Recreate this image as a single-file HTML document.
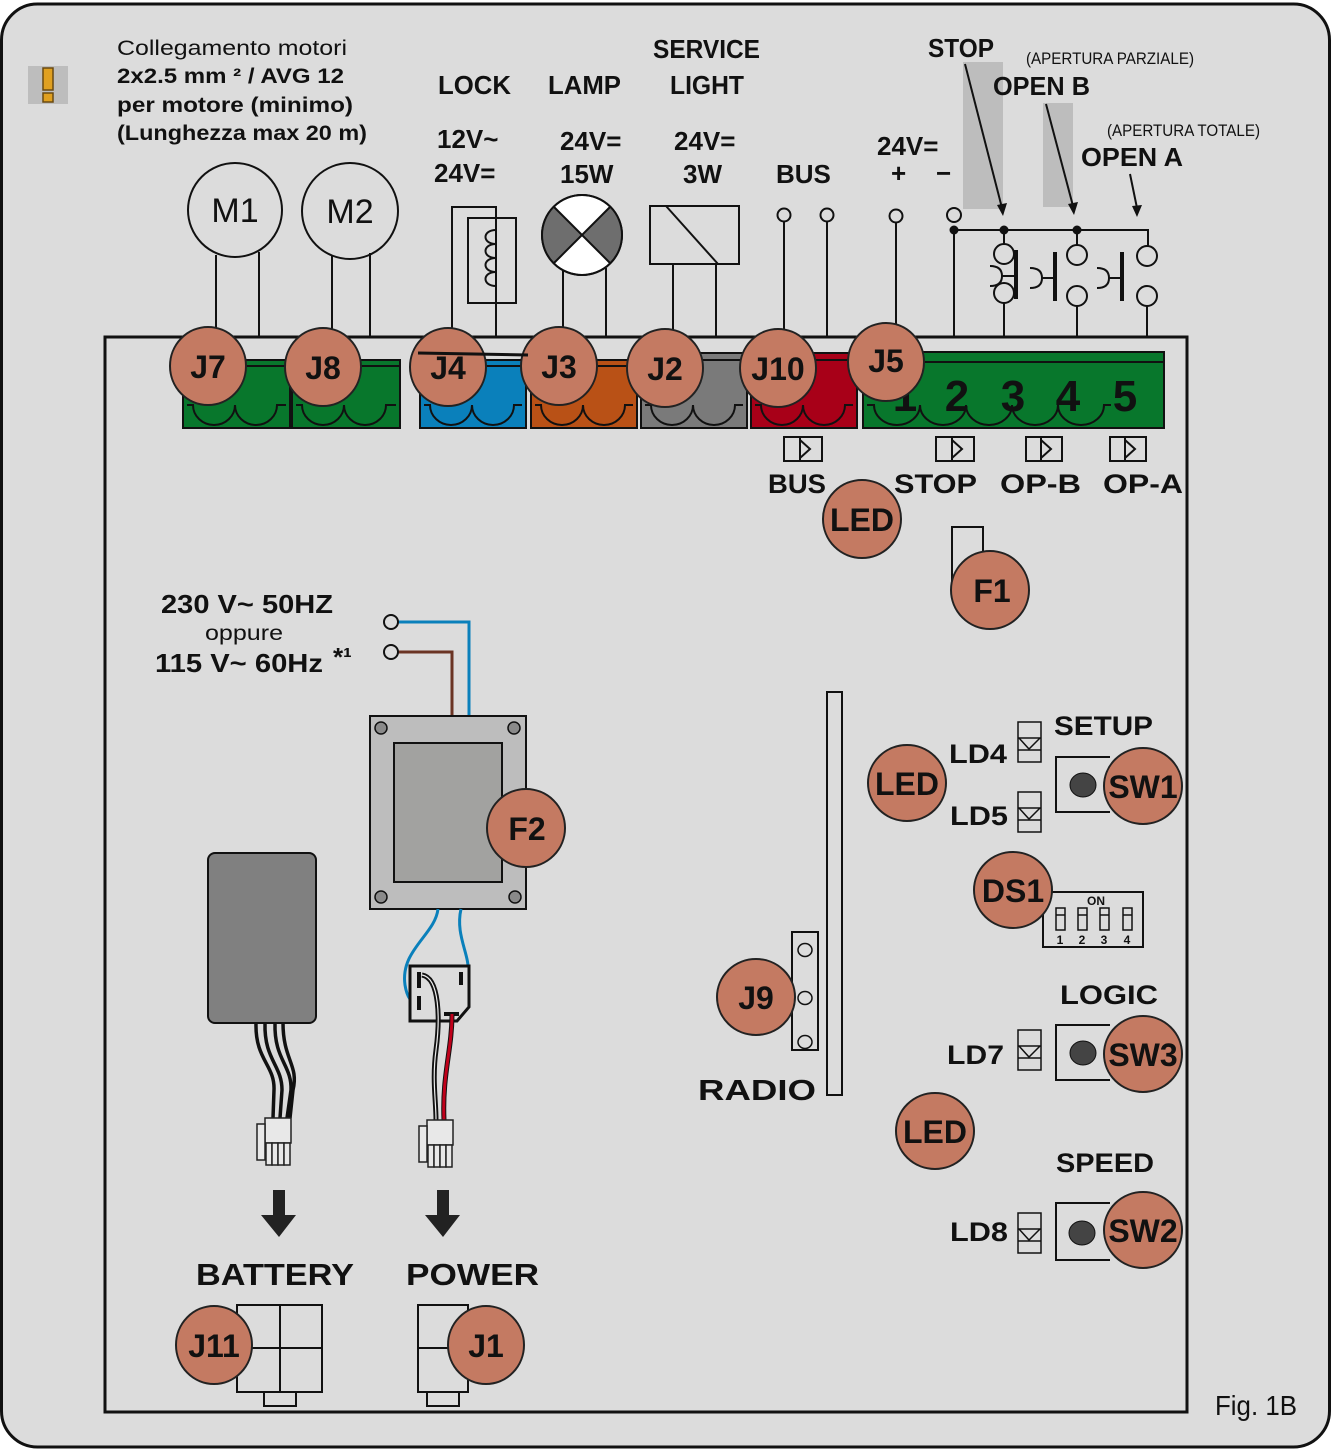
<!DOCTYPE html>
<html><head><meta charset="utf-8"><style>
html,body{margin:0;padding:0;background:#fff}
svg{display:block}
text{font-family:"Liberation Sans",sans-serif;fill:#111}
.b{font-weight:bold}
</style></head><body>
<svg width="1336" height="1450" viewBox="0 0 1336 1450" xmlns="http://www.w3.org/2000/svg">
<rect x="0" y="0" width="1336" height="1450" fill="#fff"/>
<rect x="1.5" y="4" width="1328" height="1443" rx="36" fill="#dcdcdc" stroke="#111" stroke-width="3"/>
<rect x="105" y="337" width="1082" height="1075" fill="none" stroke="#111" stroke-width="3"/>

<rect x="28" y="66" width="40" height="38" fill="#bdbdbd"/>
<rect x="43" y="68" width="10" height="22" fill="#e0a020" stroke="#6b4a10" stroke-width="1.5"/>
<rect x="43" y="93" width="10" height="9" fill="#e0a020" stroke="#6b4a10" stroke-width="1.5"/>

<text x="117" y="55" font-size="21" textLength="230" lengthAdjust="spacingAndGlyphs">Collegamento motori</text>
<text x="117" y="83" font-size="21" class="b" textLength="227" lengthAdjust="spacingAndGlyphs">2x2.5 mm ² / AVG 12</text>
<text x="117" y="112" font-size="21" class="b" textLength="236" lengthAdjust="spacingAndGlyphs">per motore  (minimo)</text>
<text x="117" y="140" font-size="21" class="b" textLength="250" lengthAdjust="spacingAndGlyphs">(Lunghezza max 20 m)</text>

<!-- gray bars -->
<rect x="963" y="62" width="40" height="147" fill="#bdbdbd"/>
<rect x="1043" y="103" width="30" height="104" fill="#bdbdbd"/>

<g font-size="26" class="b">
<text x="438" y="94" textLength="73" lengthAdjust="spacingAndGlyphs">LOCK</text>
<text x="548" y="94" textLength="73" lengthAdjust="spacingAndGlyphs">LAMP</text>
<text x="653" y="58" textLength="107" lengthAdjust="spacingAndGlyphs">SERVICE</text>
<text x="670" y="94" textLength="74" lengthAdjust="spacingAndGlyphs">LIGHT</text>
<text x="437" y="148">12V~</text>
<text x="434" y="182">24V=</text>
<text x="560" y="150">24V=</text>
<text x="560" y="183">15W</text>
<text x="674" y="150">24V=</text>
<text x="683" y="183">3W</text>
<text x="776" y="183">BUS</text>
<text x="877" y="155">24V=</text>
<text x="891" y="182">+</text>
<text x="936" y="182">−</text>
<text x="928" y="57" textLength="66" lengthAdjust="spacingAndGlyphs">STOP</text>
<text x="993" y="95" textLength="97" lengthAdjust="spacingAndGlyphs">OPEN B</text>
<text x="1081" y="166" textLength="102" lengthAdjust="spacingAndGlyphs">OPEN A</text>
</g>
<text x="1026" y="64" font-size="17" textLength="168" lengthAdjust="spacingAndGlyphs">(APERTURA PARZIALE)</text>
<text x="1107" y="136" font-size="17" textLength="153" lengthAdjust="spacingAndGlyphs">(APERTURA TOTALE)</text>

<g stroke="#111" stroke-width="2" fill="none">
<circle cx="235" cy="210" r="47" />
<circle cx="350" cy="211" r="48" />
<line x1="216" y1="255" x2="216" y2="337"/><line x1="259" y1="252" x2="259" y2="337"/>
<line x1="332" y1="256" x2="332" y2="337"/><line x1="370" y1="253" x2="370" y2="337"/>
<polyline points="452,337 452,207 496,207 496,337"/>
<rect x="468" y="218" width="48" height="85"/>
<path d="M496,230 c-14,0 -14,14 0,14 c-14,0 -14,14 0,14 c-14,0 -14,14 0,14 c-14,0 -14,14 0,14"/>
<line x1="563" y1="268" x2="563" y2="337"/><line x1="606" y1="268" x2="606" y2="337"/>
<rect x="650" y="206" width="89" height="58"/>
<line x1="666" y1="206" x2="718" y2="264"/>
<line x1="673" y1="264" x2="673" y2="337"/><line x1="716" y1="264" x2="716" y2="337"/>
<circle cx="784" cy="215" r="6.5"/><circle cx="827" cy="215" r="6.5"/>
<circle cx="896" cy="216" r="6.5"/><circle cx="954" cy="215" r="7"/>
<line x1="784" y1="222" x2="784" y2="337"/><line x1="827" y1="222" x2="827" y2="337"/>
<line x1="896" y1="223" x2="896" y2="330"/>
<line x1="954" y1="230" x2="954" y2="337"/>
<polyline points="954,230 1148,230 1148,246"/>
<line x1="1004" y1="230" x2="1004" y2="244"/>
<line x1="1077" y1="230" x2="1077" y2="246"/>
<circle cx="1004" cy="254" r="10"/><circle cx="1004" cy="293" r="10"/>
<line x1="1004" y1="303" x2="1004" y2="337"/>
<path d="M990,266 q12,0 12,10 q0,10 -12,10"/><line x1="1002" y1="276" x2="1016" y2="276"/>
<circle cx="1077" cy="255" r="10"/><circle cx="1077" cy="296" r="10"/>
<line x1="1077" y1="306" x2="1077" y2="337"/>
<path d="M1030,268 q12,0 12,10 q0,10 -12,10"/><line x1="1042" y1="278" x2="1055" y2="278"/>
<circle cx="1147" cy="256" r="10"/><circle cx="1147" cy="296" r="10"/>
<line x1="1147" y1="306" x2="1147" y2="337"/>
<path d="M1097,268 q12,0 12,10 q0,10 -12,10"/><line x1="1109" y1="278" x2="1122" y2="278"/>
<line x1="965" y1="64" x2="1002" y2="208"/>
<line x1="1046" y1="104" x2="1073" y2="206"/>
<line x1="1130" y1="174" x2="1137" y2="208"/>
</g>
<g stroke="#111" stroke-width="4"><line x1="1016" y1="250" x2="1016" y2="299"/><line x1="1055" y1="252" x2="1055" y2="301"/><line x1="1122" y1="252" x2="1122" y2="301"/></g>
<g fill="#111">
<circle cx="954" cy="230" r="4.5"/><circle cx="1004" cy="230" r="4.5"/><circle cx="1077" cy="230" r="4.5"/>
<polygon points="997,205 1007,203 1003,216"/>
<polygon points="1068,204 1078,202 1074,215"/>
<polygon points="1132,206 1142,205 1137,217"/>
</g>
<circle cx="582" cy="235" r="40" fill="#fff" stroke="#111" stroke-width="2"/>
<path d="M582,235 L554,207 A40,40 0 0 0 554,263 Z" fill="#6e6e6e"/>
<path d="M582,235 L610,207 A40,40 0 0 1 610,263 Z" fill="#6e6e6e"/>
<line x1="554" y1="207" x2="610" y2="263" stroke="#111" stroke-width="2"/>
<line x1="610" y1="207" x2="554" y2="263" stroke="#111" stroke-width="2"/>
<circle cx="582" cy="235" r="40" fill="none" stroke="#111" stroke-width="2"/>
<text x="235" y="222" font-size="34" text-anchor="middle">M1</text>
<text x="350" y="223" font-size="34" text-anchor="middle">M2</text>

<g stroke="#111" stroke-width="2">
<rect x="183" y="360" width="107" height="68" fill="#08772c"/>
<rect x="292" y="360" width="108" height="68" fill="#08772c"/>
<rect x="420" y="360" width="106" height="68" fill="#0a80bb"/>
<rect x="531" y="360" width="106" height="68" fill="#b95116"/>
<rect x="641" y="353" width="106" height="75" fill="#7a7a7a"/>
<rect x="751" y="353" width="106" height="75" fill="#a80018"/>
<rect x="863" y="352" width="301" height="76" fill="#08772c"/>
</g>
<g stroke="#111" stroke-width="2" fill="none">
<line x1="183" y1="366" x2="400" y2="366"/>
<line x1="420" y1="366" x2="637" y2="366"/>
<line x1="641" y1="360" x2="857" y2="360"/>
<line x1="863" y1="362" x2="1164" y2="362"/>
<path d="M187,405 h6 a21,20 0 0 0 42,0 a21,20 0 0 0 42,0 h9"/>
<path d="M296,405 h6 a21,20 0 0 0 42,0 a21,20 0 0 0 42,0 h10"/>
<path d="M424,405 h6 a21,20 0 0 0 42,0 a21,20 0 0 0 42,0 h8"/>
<path d="M535,405 h6 a21,20 0 0 0 42,0 a21,20 0 0 0 42,0 h8"/>
<path d="M645,405 h6 a21,20 0 0 0 42,0 a21,20 0 0 0 42,0 h8"/>
<path d="M755,405 h6 a21,20 0 0 0 42,0 a21,20 0 0 0 42,0 h8"/>
<path d="M867,405 h7 a23,20 0 0 0 46,0 a23,20 0 0 0 46,0 a23,20 0 0 0 46,0 a23,20 0 0 0 46,0 a23,20 0 0 0 46,0 h7"/>
</g>
<g font-size="44" class="b" text-anchor="middle">
<text x="905" y="411">1</text><text x="957" y="411">2</text><text x="1013" y="411">3</text><text x="1068" y="411">4</text><text x="1125" y="411">5</text>
</g>

<g stroke="#111" stroke-width="2" fill="none">
<rect x="784" y="437" width="38" height="24"/><line x1="800" y1="437" x2="800" y2="461"/><polyline points="800,440 810,449 800,458"/>
<rect x="936" y="437" width="38" height="24"/><line x1="952" y1="437" x2="952" y2="461"/><polyline points="952,440 962,449 952,458"/>
<rect x="1026" y="437" width="36" height="24"/><line x1="1041" y1="437" x2="1041" y2="461"/><polyline points="1041,440 1051,449 1041,458"/>
<rect x="1110" y="437" width="36" height="24"/><line x1="1125" y1="437" x2="1125" y2="461"/><polyline points="1125,440 1135,449 1125,458"/>
</g>
<g font-size="27" class="b">
<text x="768" y="493" textLength="58" lengthAdjust="spacingAndGlyphs">BUS</text>
<text x="894" y="493" textLength="83" lengthAdjust="spacingAndGlyphs">STOP</text>
<text x="1000" y="493" textLength="81" lengthAdjust="spacingAndGlyphs">OP-B</text>
<text x="1103" y="493" textLength="80" lengthAdjust="spacingAndGlyphs">OP-A</text>
</g>

<polyline points="952,590 952,527 983,527 983,560" fill="none" stroke="#111" stroke-width="2"/>

<g font-size="26" class="b"><text x="161" y="613" textLength="172" lengthAdjust="spacingAndGlyphs">230 V~ 50HZ</text><text x="155" y="672" textLength="168" lengthAdjust="spacingAndGlyphs">115 V~ 60Hz</text><text x="333" y="666" font-size="26">*¹</text></g>
<text x="205" y="640" font-size="21" textLength="78" lengthAdjust="spacingAndGlyphs">oppure</text>
<polyline points="398,622 469,622 469,716" fill="none" stroke="#0a80bb" stroke-width="3"/>
<polyline points="398,652 452,652 452,716" fill="none" stroke="#6b3424" stroke-width="3"/>
<circle cx="391" cy="622" r="7" fill="#dcdcdc" stroke="#111" stroke-width="2"/>
<circle cx="391" cy="652" r="7" fill="#dcdcdc" stroke="#111" stroke-width="2"/>

<rect x="370" y="716" width="156" height="193" fill="#bdbdbd" stroke="#111" stroke-width="2"/>
<rect x="394" y="743" width="108" height="139" fill="#a2a2a0" stroke="#111" stroke-width="2"/>
<g fill="#8a8a8a" stroke="#111" stroke-width="1.5">
<circle cx="381" cy="728" r="6"/><circle cx="514" cy="728" r="6"/><circle cx="381" cy="897" r="6"/><circle cx="515" cy="897" r="6"/>
</g>
<path d="M438,909 C435,935 400,950 405,985 C407,998 412,1003 418,1006" fill="none" stroke="#0a80bb" stroke-width="3"/>
<path d="M461,909 C455,935 470,955 468,972 L461,978" fill="none" stroke="#0a80bb" stroke-width="3"/>
<path d="M410,966 h59 v41 l-12,14 h-47 z" fill="#dcdcdc" stroke="#111" stroke-width="3"/>
<g stroke="#111" stroke-width="4"><line x1="419" y1="972" x2="419" y2="988"/><line x1="461" y1="972" x2="461" y2="985"/><line x1="419" y1="996" x2="419" y2="1010"/><line x1="444" y1="1014" x2="459" y2="1014"/></g>
<path d="M422,975 C440,978 440,1020 436,1050 C432,1080 436,1100 436,1120" fill="none" stroke="#111" stroke-width="5"/>
<path d="M422,975 C440,978 440,1020 436,1050 C432,1080 436,1100 436,1120" fill="none" stroke="#eee" stroke-width="1.2"/>
<path d="M452,1014 C452,1050 442,1075 444,1120" fill="none" stroke="#111" stroke-width="5"/>
<path d="M452,1014 C452,1050 442,1075 444,1120" fill="none" stroke="#c0001a" stroke-width="3"/>

<rect x="208" y="853" width="108" height="170" rx="7" fill="#808080" stroke="#111" stroke-width="2"/>
<g fill="none" stroke="#111" stroke-width="3.5">
<path d="M256,1023 C255,1060 275,1065 274,1090 L273,1118"/>
<path d="M265,1023 C264,1060 282,1065 282,1090 L280,1118"/>
<path d="M275,1023 C274,1060 292,1065 291,1090 L287,1118"/>
<path d="M283,1023 C283,1060 299,1065 293,1090 L290,1118"/>
</g>
<g fill="#e8e8e8" stroke="#222" stroke-width="1.5">
<rect x="265" y="1118" width="26" height="25"/><rect x="257" y="1124" width="8" height="36"/>
<rect x="266" y="1143" width="6" height="22"/><rect x="272" y="1143" width="6" height="22"/><rect x="278" y="1143" width="6" height="22"/><rect x="284" y="1143" width="6" height="22"/>
<rect x="427" y="1120" width="26" height="25"/><rect x="419" y="1126" width="8" height="36"/>
<rect x="428" y="1145" width="6" height="22"/><rect x="434" y="1145" width="6" height="22"/><rect x="440" y="1145" width="6" height="22"/><rect x="446" y="1145" width="6" height="22"/>
</g>
<g fill="#222"><polygon points="273,1190 285,1190 285,1215 296,1215 279,1237 261,1215 273,1215"/>
<polygon points="437,1190 449,1190 449,1215 460,1215 443,1237 425,1215 437,1215"/></g>
<g font-size="31" class="b"><text x="196" y="1285" textLength="158" lengthAdjust="spacingAndGlyphs">BATTERY</text><text x="406" y="1285" textLength="133" lengthAdjust="spacingAndGlyphs">POWER</text></g>
<g fill="none" stroke="#111" stroke-width="2">
<rect x="237" y="1305" width="85" height="87"/><line x1="280" y1="1305" x2="280" y2="1392"/><line x1="237" y1="1348" x2="322" y2="1348"/>
<rect x="264" y="1392" width="32" height="14"/>
<rect x="418" y="1305" width="50" height="87"/><line x1="418" y1="1348" x2="468" y2="1348"/>
<rect x="427" y="1392" width="32" height="14"/>
</g>

<rect x="827" y="692" width="15" height="403" fill="none" stroke="#111" stroke-width="2"/>
<rect x="792" y="932" width="26" height="118" fill="none" stroke="#111" stroke-width="2"/>
<g fill="none" stroke="#111" stroke-width="1.5"><ellipse cx="805" cy="950" rx="7" ry="6.5"/><ellipse cx="805" cy="998" rx="7" ry="6.5"/><ellipse cx="805" cy="1042" rx="7" ry="6.5"/></g>
<text x="698" y="1100" font-size="29" class="b" textLength="118" lengthAdjust="spacingAndGlyphs">RADIO</text>

<g fill="none" stroke="#111" stroke-width="1.5">
<rect x="1018" y="722" width="23" height="40"/><line x1="1018" y1="738" x2="1041" y2="738"/><line x1="1018" y1="750" x2="1041" y2="750"/><polyline points="1019,738 1029,749 1040,738"/>
<rect x="1018" y="792" width="23" height="40"/><line x1="1018" y1="808" x2="1041" y2="808"/><line x1="1018" y1="820" x2="1041" y2="820"/><polyline points="1019,808 1029,819 1040,808"/>
<rect x="1018" y="1030" width="23" height="40"/><line x1="1018" y1="1046" x2="1041" y2="1046"/><line x1="1018" y1="1058" x2="1041" y2="1058"/><polyline points="1019,1046 1029,1057 1040,1046"/>
<rect x="1018" y="1213" width="23" height="40"/><line x1="1018" y1="1229" x2="1041" y2="1229"/><line x1="1018" y1="1241" x2="1041" y2="1241"/><polyline points="1019,1229 1029,1240 1040,1229"/>
</g>
<g font-size="27" class="b">
<text x="949" y="763" textLength="58" lengthAdjust="spacingAndGlyphs">LD4</text><text x="950" y="825" textLength="58" lengthAdjust="spacingAndGlyphs">LD5</text><text x="947" y="1064" textLength="57" lengthAdjust="spacingAndGlyphs">LD7</text><text x="950" y="1241" textLength="58" lengthAdjust="spacingAndGlyphs">LD8</text>
<text x="1054" y="735" textLength="99" lengthAdjust="spacingAndGlyphs">SETUP</text><text x="1060" y="1004" textLength="98" lengthAdjust="spacingAndGlyphs">LOGIC</text><text x="1056" y="1172" textLength="98" lengthAdjust="spacingAndGlyphs">SPEED</text>
</g>
<g fill="none" stroke="#111" stroke-width="2">
<path d="M1110,757 h-54 v55 h54"/>
<path d="M1110,1025 h-54 v55 h54"/>
<path d="M1110,1203 h-54 v57 h54"/>
</g>
<g fill="#444" stroke="#111" stroke-width="1"><ellipse cx="1083" cy="785" rx="13" ry="12"/><ellipse cx="1083" cy="1053" rx="13" ry="12"/><ellipse cx="1082" cy="1233" rx="13" ry="12"/></g>
<rect x="1043" y="892" width="100" height="55" fill="none" stroke="#111" stroke-width="2"/>
<text x="1096" y="905" font-size="12" class="b" text-anchor="middle">ON</text>
<g fill="none" stroke="#111" stroke-width="1.5">
<rect x="1056" y="908" width="9" height="22"/><line x1="1056" y1="915" x2="1065" y2="915"/>
<rect x="1078" y="908" width="9" height="22"/><line x1="1078" y1="915" x2="1087" y2="915"/>
<rect x="1100" y="908" width="9" height="22"/><line x1="1100" y1="915" x2="1109" y2="915"/>
<rect x="1123" y="908" width="9" height="22"/><line x1="1123" y1="915" x2="1132" y2="915"/>
</g>
<g font-size="12" class="b" text-anchor="middle"><text x="1060" y="944">1</text><text x="1082" y="944">2</text><text x="1104" y="944">3</text><text x="1127" y="944">4</text></g>

<g fill="#c47a62" stroke="#222" stroke-width="2">
<ellipse cx="208" cy="366" rx="38" ry="39"/>
<ellipse cx="323" cy="367" rx="38" ry="39"/>
<ellipse cx="448" cy="367" rx="38" ry="39"/>
<ellipse cx="559" cy="366" rx="38" ry="39"/>
<ellipse cx="665" cy="368" rx="38" ry="39"/>
<ellipse cx="778" cy="368" rx="38" ry="39"/>
<ellipse cx="886" cy="362" rx="38" ry="39"/>
<ellipse cx="862" cy="519" rx="39" ry="39"/>
<ellipse cx="990" cy="590" rx="39" ry="39"/>
<ellipse cx="526" cy="828" rx="39" ry="39"/>
<ellipse cx="907" cy="783" rx="39" ry="38"/>
<ellipse cx="1143" cy="786" rx="39" ry="38"/>
<ellipse cx="1013" cy="890" rx="39" ry="38"/>
<ellipse cx="756" cy="997" rx="39" ry="38"/>
<ellipse cx="1143" cy="1054" rx="39" ry="38"/>
<ellipse cx="935" cy="1131" rx="39" ry="38"/>
<ellipse cx="1143" cy="1230" rx="39" ry="38"/>
<ellipse cx="214" cy="1345" rx="38" ry="39"/>
<ellipse cx="486" cy="1345" rx="38" ry="39"/>
</g>
<g font-size="32" class="b" text-anchor="middle">
<text x="208" y="378">J7</text><text x="323" y="379">J8</text><text x="448" y="379">J4</text><text x="559" y="378">J3</text>
<text x="665" y="380">J2</text><text x="778" y="380">J10</text><text x="886" y="372">J5</text>
<text x="862" y="531">LED</text><text x="992" y="602">F1</text><text x="527" y="840">F2</text>
<text x="907" y="795">LED</text><text x="1143" y="798">SW1</text><text x="1013" y="902">DS1</text>
<text x="756" y="1009">J9</text><text x="1143" y="1066">SW3</text><text x="935" y="1143">LED</text>
<text x="1143" y="1242">SW2</text><text x="214" y="1357">J11</text><text x="486" y="1357">J1</text>
</g>
<line x1="418" y1="353" x2="528" y2="355" stroke="#111" stroke-width="3"/>

<text x="1215" y="1415" font-size="28" textLength="82" lengthAdjust="spacingAndGlyphs">Fig. 1B</text>
</svg>
</body></html>
